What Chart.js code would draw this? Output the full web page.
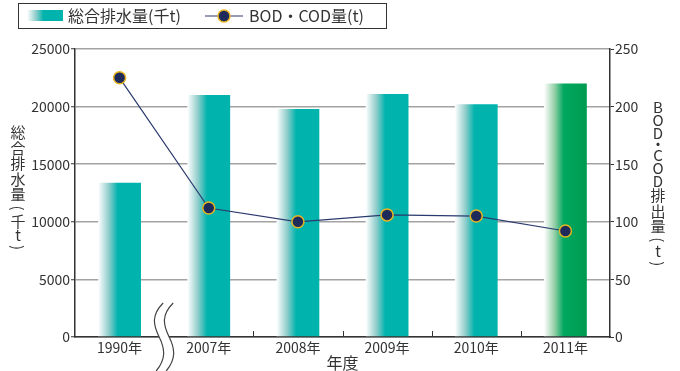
<!DOCTYPE html>
<html>
<head>
<meta charset="utf-8">
<script src="https://cdn.jsdelivr.net/npm/chart.js@4"></script>
<style>
  html, body { margin: 0; padding: 0; background: #fff; }
  #wrap { width: 680px; height: 371px; position: relative; }
</style>
</head>
<body>
<div id="wrap"><canvas id="c" width="680" height="371"></canvas></div>
<script>
// ---- data ----
const years = ['1990年', '2007年', '2008年', '2009年', '2010年', '2011年'];
const totalDischarge = [13400, 21000, 19800, 21100, 20200, 22000]; // 千t
const bodCod = [225, 112, 100, 106, 105, 92]; // t
const leftTicks = [0, 5000, 10000, 15000, 20000, 25000];
const rightTicks = [0, 50, 100, 150, 200, 250];
const barLabel = '総合排水量(千t)';
const lineLabel = 'BOD・COD量(t)';
const leftTitle = '総合排水量(千t)';
const rightTitle = 'BOD・COD排出量(t)';
const xTitle = '年度';

// ---- styles ----
const FONT = '"Noto Sans CJK JP", "Noto Sans", sans-serif';
const TEXT = '#333333';
const teal = ['#ffffff', '#8fcdcb', '#00b3ad', '#00b3ad'];
const green = ['#ffffff', '#93cfa6', '#00a75e', '#009a52'];
const barPalettes = [teal, teal, teal, teal, teal, green];
const BAR_FRAC = 0.48;

function barGradient(ctx2d, x0, x1, pal) {
  const g = ctx2d.createLinearGradient(x0, 0, x1, 0);
  g.addColorStop(0, pal[0]);
  g.addColorStop(0.25, pal[1]);
  g.addColorStop(0.46, pal[2]);
  g.addColorStop(1, pal[3]);
  return g;
}

function vChar(ctx, ch, x, y) {
  if (ch === '(' || ch === ')') {
    ctx.save();
    ctx.translate(x, y);
    ctx.rotate(Math.PI / 2);
    ctx.fillText(ch, 0, 0);
    ctx.restore();
  } else {
    ctx.fillText(ch, x, y);
  }
}
function advance(ch) {
  if (ch === '(' || ch === ')') return 11;
  if (ch === '・') return 9;
  if (/[A-Za-z]/.test(ch)) return 13;
  return 15.5;
}
function drawVertical(ctx, text, x, cy) {
  const chars = Array.from(text);
  const total = chars.reduce((s, c) => s + advance(c), 0);
  let y = cy - total / 2;
  for (const c of chars) {
    const a = advance(c);
    vChar(ctx, c, x, y + a / 2);
    y += a;
  }
}

const decorPlugin = {
  id: 'decor',
  afterDraw(chart) {
    const ctx = chart.ctx;
    const area = chart.chartArea;
    const xs = chart.scales.x;
    ctx.save();

    // inner tick marks on x axis at category boundaries (not across the break)
    ctx.strokeStyle = TEXT;
    ctx.lineWidth = 1;
    for (let i = 1; i < years.length - 1; i++) {
      const bx = Math.round((xs.getPixelForValue(i) + xs.getPixelForValue(i + 1)) / 2) + 0.5;
      ctx.beginPath();
      ctx.moveTo(bx, area.bottom);
      ctx.lineTo(bx, area.bottom - 6);
      ctx.stroke();
    }

    // break symbol between first and second category
    const mid = (xs.getPixelForValue(0) + xs.getPixelForValue(1)) / 2;
    const top = area.bottom - 34, bot = chart.height;
    const wave = (x) => {
      ctx.moveTo(x + 4, top);
      ctx.bezierCurveTo(x - 8, top + 12, x - 6, top + 22, x, top + 34);
      ctx.bezierCurveTo(x + 6, top + 46, x + 7, top + 56, x - 3, bot);
    };
    ctx.fillStyle = '#ffffff';
    ctx.beginPath();
    ctx.moveTo(mid - 5 + 4, top);
    ctx.bezierCurveTo(mid - 5 - 8, top + 12, mid - 5 - 6, top + 22, mid - 5, top + 34);
    ctx.bezierCurveTo(mid - 5 + 6, top + 46, mid - 5 + 7, top + 56, mid - 5 - 3, bot);
    ctx.lineTo(mid + 5 - 3, bot);
    ctx.bezierCurveTo(mid + 5 + 7, top + 56, mid + 5 + 6, top + 46, mid + 5, top + 34);
    ctx.bezierCurveTo(mid + 5 - 6, top + 22, mid + 5 - 8, top + 12, mid + 5 + 4, top);
    ctx.closePath();
    ctx.fill();
    ctx.strokeStyle = '#444';
    ctx.lineWidth = 1.2;
    ctx.beginPath(); wave(mid - 5); ctx.stroke();
    ctx.beginPath(); wave(mid + 5); ctx.stroke();

    // axis titles
    ctx.fillStyle = TEXT;
    ctx.textAlign = 'center';
    ctx.textBaseline = 'middle';
    ctx.font = '15px ' + FONT;
    drawVertical(ctx, leftTitle, 18, (area.top + area.bottom) / 2 - 4);
    drawVertical(ctx, rightTitle, 658, (area.top + area.bottom) / 2 - 8);
    ctx.font = '16px ' + FONT;
    ctx.fillText(xTitle, (area.left + area.right) / 2, 363);

    // legend
    ctx.strokeStyle = '#333';
    ctx.lineWidth = 1;
    ctx.strokeRect(18.5, 3.5, 368, 25);
    ctx.fillStyle = barGradient(ctx, 27, 63, teal);
    ctx.fillRect(27, 10, 36, 11);
    ctx.fillStyle = TEXT;
    ctx.textAlign = 'left';
    ctx.font = '16px ' + FONT;
    ctx.fillText(barLabel, 68, 16);
    ctx.strokeStyle = '#2b3a6e';
    ctx.lineWidth = 1.2;
    ctx.beginPath(); ctx.moveTo(205, 16); ctx.lineTo(243, 16); ctx.stroke();
    ctx.beginPath(); ctx.arc(224, 16, 6, 0, Math.PI * 2);
    ctx.fillStyle = '#1e2a5a'; ctx.fill();
    ctx.strokeStyle = '#e6b422'; ctx.lineWidth = 1.5; ctx.stroke();
    ctx.fillStyle = TEXT;
    ctx.font = '16px ' + FONT;
    ctx.fillText(lineLabel, 249, 16);
    ctx.restore();
  }
};

new Chart(document.getElementById('c'), {
  data: {
    labels: years,
    datasets: [
      {
        type: 'line',
        label: lineLabel,
        data: bodCod,
        yAxisID: 'y1',
        order: 0,
        borderColor: '#2b3a6e',
        borderWidth: 1.2,
        tension: 0,
        pointRadius: 6,
        pointHoverRadius: 6,
        pointBackgroundColor: '#1e2a5a',
        pointBorderColor: '#e6b422',
        pointBorderWidth: 1.5
      },
      {
        type: 'bar',
        label: barLabel,
        data: totalDischarge,
        yAxisID: 'y',
        order: 1,
        categoryPercentage: 1,
        barPercentage: BAR_FRAC,
        borderWidth: 0,
        backgroundColor: (c) => {
          const chart = c.chart;
          const xs = chart.scales && chart.scales.x;
          const pal = barPalettes[c.dataIndex] || teal;
          if (!xs || c.type !== 'data' || !chart.chartArea) return pal[2];
          const center = xs.getPixelForValue(c.dataIndex);
          const w = xs.width / years.length * BAR_FRAC;
          return barGradient(chart.ctx, center - w / 2, center + w / 2, pal);
        }
      }
    ]
  },
  options: {
    responsive: false,
    animation: false,
    events: [],
    layout: { padding: { top: 49, left: 0, right: 0, bottom: 0 } },
    plugins: { legend: { display: false }, tooltip: { enabled: false } },
    scales: {
      x: {
        offset: true,
        grid: { display: false, drawTicks: false },
        border: { display: true, color: '#333', width: 1.5 },
        ticks: { color: TEXT, font: { family: FONT, size: 14 }, padding: 2, maxRotation: 0 },
        afterFit: (s) => { s.height = 34; }
      },
      y: {
        position: 'left',
        min: 0, max: 25000,
        afterBuildTicks: (s) => { s.ticks = leftTicks.map(v => ({ value: v })); },
        grid: { color: '#a3a3a3', lineWidth: 1.5, tickColor: '#333', tickLength: 4, tickWidth: 1 },
        border: { display: true, color: '#333', width: 1.5 },
        ticks: { color: TEXT, font: { family: FONT, size: 14 }, padding: 1, callback: (v) => String(v) },
        afterFit: (s) => { s.width = 75; }
      },
      y1: {
        position: 'right',
        min: 0, max: 250,
        afterBuildTicks: (s) => { s.ticks = rightTicks.map(v => ({ value: v })); },
        grid: { drawOnChartArea: false, tickColor: '#333', tickLength: 4, tickWidth: 1 },
        border: { display: true, color: '#333', width: 1.5 },
        ticks: { color: TEXT, font: { family: FONT, size: 14 }, padding: 1, callback: (v) => String(v) },
        afterFit: (s) => { s.width = 70; }
      }
    }
  },
  plugins: [decorPlugin]
});
</script>
</body>
</html>
